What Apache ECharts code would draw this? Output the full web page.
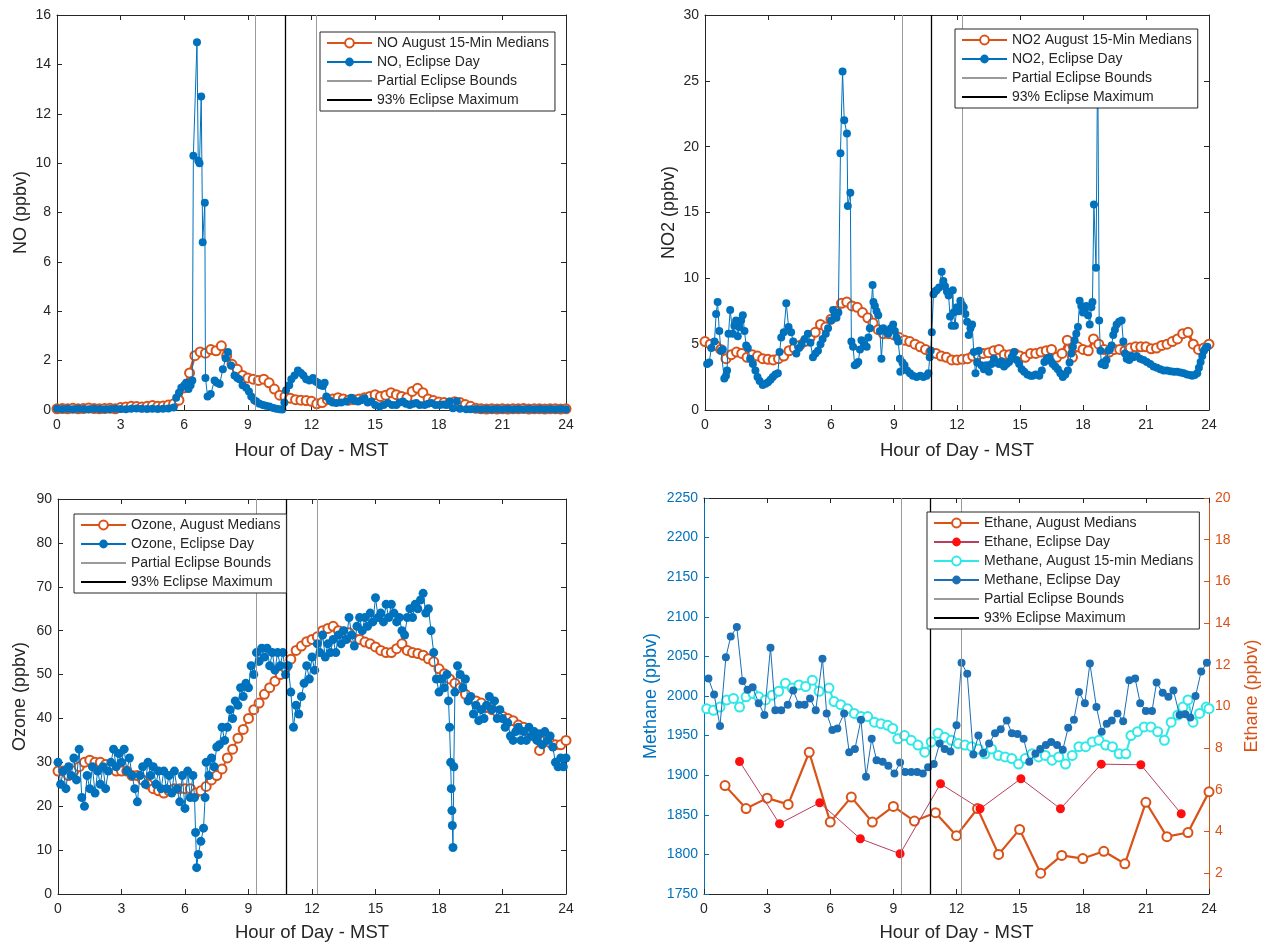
<!DOCTYPE html>
<html><head><meta charset="utf-8">
<script src="https://cdn.jsdelivr.net/npm/echarts@6/dist/echarts.min.js"></script>
<style>html,body{margin:0;padding:0;background:#fff}#c{width:1265px;height:944px}</style>
</head><body><div id="c"></div>
<script>
// ---------------- DATA ----------------
const HOUR_RANGE = [0, 24, 3];
const ECLIPSE_PARTIAL = [9.37, 12.23];
const ECLIPSE_MAX = [10.77];

const QUARTER_HOURS = [
0,0.25,0.5,0.75,1,1.25,1.5,1.75,2,2.25,2.5,2.75,
3,3.25,3.5,3.75,4,4.25,4.5,4.75,5,5.25,5.5,5.75,
6,6.25,6.5,6.75,7,7.25,7.5,7.75,8,8.25,8.5,8.75,
9,9.25,9.5,9.75,10,10.25,10.5,10.75,11,11.25,11.5,11.75,
12,12.25,12.5,12.75,13,13.25,13.5,13.75,14,14.25,14.5,14.75,
15,15.25,15.5,15.75,16,16.25,16.5,16.75,17,17.25,17.5,17.75,
18,18.25,18.5,18.75,19,19.25,19.5,19.75,20,20.25,20.5,20.75,
21,21.25,21.5,21.75,22,22.25,22.5,22.75,23,23.25,23.5,23.75,24];

const NO_MED = [
0.05,0.06,0.05,0.07,0.05,0.06,0.08,0.06,0.05,0.06,0.07,0.05,
0.1,0.12,0.15,0.14,0.12,0.15,0.18,0.15,0.16,0.2,0.25,0.4,
0.9,1.5,2.2,2.35,2.3,2.45,2.4,2.6,2.2,1.85,1.65,1.4,
1.3,1.25,1.2,1.25,1.1,0.85,0.6,0.55,0.48,0.42,0.4,0.38,
0.35,0.25,0.3,0.42,0.45,0.5,0.45,0.4,0.42,0.45,0.5,0.55,
0.62,0.55,0.6,0.7,0.62,0.55,0.5,0.75,0.88,0.7,0.45,0.38,
0.32,0.3,0.28,0.33,0.3,0.22,0.15,0.07,0.05,0.04,0.05,0.04,
0.05,0.04,0.05,0.05,0.06,0.04,0.05,0.05,0.04,0.05,0.05,0.04,0.05];

const NO_DAY = [[0,0.05],[0.25,0.04],[0.5,0.05],[0.75,0.03],[1,0.05],[1.25,0.04],[1.5,0.03],[1.75,0.05],[2,0.04],[2.25,0.03],[2.5,0.04],[2.75,0.05],[3,0.04],[3.25,0.03],[3.5,0.05],[3.75,0.06],[4,0.05],[4.25,0.04],[4.5,0.05],[4.75,0.04],[5,0.05],[5.25,0.06],[5.5,0.1],[5.62,0.5],[5.75,0.7],[5.86,0.9],[6.0,1.0],[6.09,1.1],[6.2,0.85],[6.3,1.0],[6.38,1.2],[6.43,10.3],[6.6,14.9],[6.66,10.1],[6.72,10.0],[6.8,12.7],[6.87,6.8],[6.97,8.4],[7.0,1.3],[7.1,0.55],[7.25,0.65],[7.43,1.2],[7.55,1.1],[7.67,1.05],[7.82,1.65],[7.95,2.1],[8.06,2.35],[8.21,1.8],[8.37,1.4],[8.5,1.3],[8.6,1.25],[8.75,1.0],[8.92,0.9],[9.05,0.75],[9.16,0.55],[9.3,0.4],[9.4,0.34],[9.55,0.25],[9.71,0.2],[9.85,0.17],[10.02,0.14],[10.2,0.08],[10.34,0.05],[10.5,0.03],[10.62,0.02],[10.72,0.3],[10.8,0.8],[10.95,1.0],[11.05,1.25],[11.2,1.4],[11.36,1.6],[11.5,1.5],[11.62,1.4],[11.75,1.25],[11.9,1.2],[12.07,1.3],[12.2,1.15],[12.3,1.1],[12.42,1.0],[12.54,0.97],[12.62,1.1],[12.7,0.55],[12.85,0.4],[13.0,0.3],[13.17,0.28],[13.4,0.3],[13.64,0.34],[13.88,0.5],[14.0,0.4],[14.19,0.34],[14.35,0.4],[14.5,0.48],[14.65,0.3],[14.82,0.34],[15.0,0.2],[15.21,0.14],[15.4,0.2],[15.6,0.28],[15.8,0.2],[16.0,0.2],[16.15,0.3],[16.31,0.34],[16.45,0.25],[16.63,0.2],[16.8,0.25],[16.94,0.28],[17.1,0.2],[17.33,0.2],[17.5,0.25],[17.65,0.28],[17.85,0.2],[18.04,0.2],[18.2,0.22],[18.36,0.2],[18.52,0.34],[18.67,0.07],[18.85,0.35],[19.0,0.05],[19.3,0.03],[19.5,0.03],[19.75,0.04],[20,0.03],[20.25,0.04],[20.5,0.03],[20.75,0.04],[21,0.03],[21.25,0.04],[21.5,0.03],[21.75,0.04],[22,0.03],[22.25,0.04],[22.5,0.03],[22.75,0.04],[23,0.03],[23.25,0.04],[23.5,0.03],[23.75,0.04],[24,0.03]];

const NO2_MED = [
5.2,5.0,4.9,4.6,3.9,4.2,4.4,4.3,4.0,4.2,4.1,3.9,
3.85,3.8,3.9,4.1,4.5,4.7,4.9,5.2,5.5,5.9,6.5,6.3,
6.9,7.5,8.1,8.2,7.9,7.8,7.4,7.0,6.6,6.1,5.8,5.8,
5.7,5.5,5.3,5.2,5.0,4.8,4.6,4.4,4.3,4.1,4.0,3.8,
3.8,3.85,3.9,4.1,4.2,4.3,4.35,4.5,4.6,4.2,4.2,4.3,
4.1,4.0,4.3,4.3,4.4,4.5,4.6,4.0,4.3,5.3,4.0,4.8,
4.6,4.5,5.4,5.0,4.6,4.4,4.6,4.6,4.5,4.7,4.8,4.8,
4.8,4.65,4.7,4.9,5.0,5.2,5.4,5.8,5.9,5.0,4.6,4.7,5.0];

const NO2_DAY = [[0.1,3.5],[0.2,3.6],[0.3,4.7],[0.45,5.2],[0.53,7.3],[0.6,8.2],[0.68,6.0],[0.76,4.5],[0.85,4.6],[0.92,2.4],[1.0,2.6],[1.05,3.0],[1.12,5.8],[1.2,7.6],[1.32,5.8],[1.4,6.4],[1.48,6.8],[1.56,5.6],[1.64,6.3],[1.72,6.8],[1.8,7.2],[1.88,6.0],[1.96,4.9],[2.04,4.7],[2.15,3.9],[2.28,3.5],[2.4,3.0],[2.5,2.5],[2.6,2.2],[2.75,1.9],[2.88,2.0],[3.0,2.1],[3.12,2.3],[3.23,2.5],[3.35,2.7],[3.47,2.8],[3.55,4.4],[3.63,5.5],[3.75,5.9],[3.87,8.1],[3.98,6.3],[4.1,5.9],[4.2,5.2],[4.35,4.3],[4.48,4.7],[4.6,5.0],[4.75,5.4],[4.9,5.8],[5.02,5.1],[5.14,4.0],[5.26,4.3],[5.38,4.5],[5.5,5.0],[5.6,5.4],[5.75,5.8],[5.86,6.2],[6.0,6.8],[6.1,7.6],[6.18,7.2],[6.26,7.0],[6.35,7.4],[6.45,19.5],[6.55,25.7],[6.63,22.0],[6.76,21.0],[6.8,15.5],[6.92,16.5],[6.97,5.2],[7.05,4.8],[7.13,3.4],[7.22,3.5],[7.3,3.65],[7.38,4.6],[7.45,5.3],[7.58,5.0],[7.7,4.8],[7.78,5.5],[7.85,6.2],[7.98,9.5],[8.02,8.2],[8.09,7.9],[8.17,7.5],[8.25,7.2],[8.33,6.0],[8.4,3.9],[8.49,6.2],[8.6,6.0],[8.73,5.8],[8.85,6.2],[8.96,6.5],[9.04,6.0],[9.12,5.5],[9.2,5.2],[9.28,3.9],[9.3,2.9],[9.4,3.6],[9.5,3.4],[9.62,3.0],[9.76,2.8],[9.9,2.6],[10.08,2.5],[10.25,2.6],[10.4,2.5],[10.55,2.6],[10.64,2.8],[10.7,4.0],[10.75,4.5],[10.8,5.9],[10.88,8.8],[10.95,9.0],[11.03,9.1],[11.15,9.3],[11.27,10.5],[11.35,9.8],[11.43,9.4],[11.52,9.0],[11.6,8.7],[11.67,7.1],[11.75,6.4],[11.8,9.1],[11.84,7.4],[11.9,6.4],[12.0,7.8],[12.08,7.5],[12.16,8.3],[12.24,8.0],[12.32,7.8],[12.4,7.3],[12.48,6.7],[12.56,5.7],[12.64,6.2],[12.72,6.5],[12.8,4.4],[12.88,2.8],[12.96,3.6],[13.04,4.5],[13.16,3.4],[13.28,3.1],[13.4,3.4],[13.52,2.9],[13.64,3.5],[13.76,3.9],[13.88,3.6],[14.0,3.5],[14.12,3.7],[14.24,3.3],[14.36,3.5],[14.48,3.65],[14.6,4.0],[14.72,4.4],[14.84,3.8],[14.96,3.5],[15.08,3.1],[15.2,2.9],[15.35,2.7],[15.5,2.6],[15.6,2.6],[15.75,2.7],[15.92,2.6],[16.04,3.0],[16.16,3.65],[16.28,3.9],[16.4,4.0],[16.48,3.7],[16.56,3.5],[16.68,3.3],[16.8,3.1],[16.92,2.8],[17.04,2.5],[17.16,2.7],[17.28,3.0],[17.36,3.6],[17.44,4.3],[17.52,4.8],[17.6,5.3],[17.68,5.8],[17.76,6.3],[17.84,8.3],[17.92,7.9],[18.0,7.4],[18.08,7.6],[18.16,7.9],[18.24,7.2],[18.32,6.5],[18.4,7.8],[18.45,8.2],[18.52,15.6],[18.62,10.8],[18.7,27.5],[18.77,6.8],[18.83,4.5],[18.88,3.5],[18.96,3.6],[19.04,3.4],[19.12,3.8],[19.2,4.5],[19.28,4.6],[19.36,4.9],[19.44,5.7],[19.52,6.1],[19.6,6.5],[19.72,6.7],[19.84,6.8],[19.92,5.2],[20.0,4.3],[20.08,3.9],[20.2,3.8],[20.3,4.1],[20.4,4.0],[20.56,4.1],[20.72,3.9],[20.88,3.8],[21.04,3.65],[21.2,3.5],[21.36,3.3],[21.52,3.2],[21.68,3.1],[21.84,3.0],[22.0,3.0],[22.16,2.95],[22.32,2.9],[22.48,2.9],[22.64,2.85],[22.8,2.8],[22.96,2.7],[23.1,2.65],[23.2,2.6],[23.32,2.65],[23.44,2.8],[23.52,3.2],[23.6,3.65],[23.68,4.1],[23.76,4.5],[23.84,4.7],[23.92,4.8]];

const OZONE_MED = [
28,28,27,28,29,30,30.5,30,30,29.5,29,28,
28,28,27,27,26,25,24,23.5,23,23.5,24,24,
24,24,23,23.5,24.5,26,27,28.5,31,33,35.5,37.5,
40,42,43.5,45.5,47,48.5,50,51.5,53.5,55.5,56.5,57.5,
58,58.6,60,60.5,61,60,59.7,59.5,58.2,58,57.4,57,
56.3,55.5,55,55,55.9,57,55.5,55,54.8,54.4,53.6,52.9,
51.3,50.2,49,48,47,45.5,44.5,44,43.5,42.5,42,41.5,
40.5,40,39.5,38.5,38,37,36,32.7,35,34.5,34,34,35];

const OZONE_DAY = [[0,30],[0.125,25],[0.25,28],[0.375,24],[0.5,29],[0.625,27],[0.75,31],[0.875,26],
[1.0,33],[1.125,22],[1.25,20],[1.375,27],[1.5,24],[1.625,29],[1.75,23],[1.875,28],
[2.0,25],[2.125,29],[2.25,24],[2.375,28],[2.5,30],[2.625,33],[2.75,29],[2.875,32],
[3.0,30],[3.125,33],[3.25,28],[3.375,31],[3.5,27],[3.625,24],[3.75,21],[3.875,27],
[4.0,29],[4.125,25],[4.25,30],[4.375,27],[4.5,29],[4.625,25],[4.75,28],[4.875,24],
[5.0,28],[5.125,24],[5.25,27],[5.375,23],[5.5,28],[5.625,24],[5.75,21],[5.875,27],
[6.0,19.5],[6.125,28],[6.25,22],[6.375,27],[6.45,22],[6.5,14],[6.55,6],[6.625,9],[6.75,12],[6.875,15],
[6.95,22],[7.0,30],[7.125,27],[7.25,31],[7.375,29],[7.5,33.5],[7.625,34],[7.75,38],[7.875,35],
[8.0,38],[8.125,42],[8.25,40],[8.375,44],[8.5,43],[8.625,47],[8.75,45],[8.875,48],
[9.0,47],[9.125,52],[9.25,50],[9.375,55],[9.5,53],[9.625,56],[9.75,54],[9.875,56],
[10.0,52],[10.125,55],[10.25,51],[10.375,55],[10.5,52],[10.625,55],[10.75,50],[10.875,52],
[11.0,46],[11.125,38],[11.25,43],[11.375,41],[11.5,45],[11.625,48],[11.75,52],[11.875,49],
[12.0,54],[12.125,51],[12.25,57],[12.375,55],[12.5,59],[12.625,54],[12.75,57],[12.875,55],
[13.0,58],[13.125,55],[13.25,59],[13.375,57],[13.5,60],[13.625,58],[13.75,63],[13.875,59],
[14.0,56.5],[14.125,61],[14.25,63],[14.375,60],[14.5,63],[14.625,61],[14.75,64],[14.875,62],
[15.0,67.5],[15.125,63],[15.25,64],[15.375,62],[15.5,66],[15.625,63],[15.75,66],[15.875,64],
[16.0,62],[16.125,63],[16.25,60],[16.375,59],[16.5,63],[16.625,65],[16.75,63],[16.875,66],
[17.0,65],[17.125,67],[17.25,68.5],[17.375,64],[17.5,65],[17.625,60],[17.75,55],[17.875,49],
[18.0,46],[18.125,49],[18.25,47],[18.375,50],[18.45,44],[18.5,38],[18.55,30],[18.58,24],[18.61,19],[18.63,15.6],[18.66,10.6],[18.7,29],[18.75,46],[18.875,52],
[19.0,50],[19.125,47],[19.25,49],[19.375,44],[19.5,45],[19.625,41],[19.75,43],[19.875,39.5],
[20.0,42],[20.125,40],[20.25,43],[20.375,45],[20.5,42],[20.625,44],[20.75,40],[20.875,42],
[21.0,40],[21.125,38],[21.25,39],[21.375,36],[21.5,35],[21.625,37],[21.75,38],[21.875,35],
[22.0,37],[22.125,35],[22.25,38],[22.375,36],[22.5,37],[22.625,35],[22.75,36.5],[22.875,34],
[23.0,37],[23.125,35],[23.25,36],[23.375,33.5],[23.5,30],[23.625,29],[23.75,31],[23.875,29],[24.0,31]];

const METHANE_MED = [[0.13,1984],[0.45,1982],[0.76,1986],[1.08,1995],[1.4,1997],[1.69,1986],[2.0,1999],[2.33,2003],[2.6,1999],[2.92,1995],[3.24,2001],[3.55,2006],[3.87,2016],[4.19,2010],[4.51,2014],[4.83,2012],[5.15,2020],[5.47,2006],[5.94,2010],[6.18,1993],[6.5,1989],[6.82,1984],[7.14,1978],[7.46,1974],[7.78,1974],[8.1,1967],[8.41,1965],[8.73,1963],[8.97,1959],[9.21,1946],[9.53,1950],[9.85,1944],[10.17,1938],[10.49,1929],[10.8,1942],[11.12,1953],[11.44,1948],[11.76,1944],[12.08,1940],[12.4,1938],[12.72,1936],[13.04,1933],[13.35,1927],[13.67,1933],[13.99,1925],[14.31,1923],[14.63,1921],[14.95,1914],[15.27,1921],[15.59,1927],[15.9,1923],[16.22,1925],[16.54,1919],[16.86,1923],[17.18,1914],[17.5,1925],[17.82,1936],[18.14,1936],[18.45,1942],[18.77,1944],[19.09,1938],[19.41,1936],[19.73,1927],[20.05,1927],[20.29,1950],[20.6,1955],[20.92,1961],[21.24,1961],[21.56,1955],[21.88,1944],[22.2,1967],[22.52,1976],[22.76,1986],[23.0,1995],[23.24,1967],[23.55,1978],[23.87,1986],[24.0,1984]];

const METHANE_DAY = [[0.21,2022],[0.48,2002],[0.76,1962],[1.04,2049],[1.27,2075],[1.56,2087],[1.83,2019],[2.07,2008],[2.31,2011],[2.6,1991],[2.87,1976],[3.16,2061],[3.39,1982],[3.67,1982],[3.98,1989],[4.24,2007],[4.51,1989],[4.78,1989],[5.04,1997],[5.31,1982],[5.63,2047],[5.83,1978],[6.1,1957],[6.34,1959],[6.66,1978],[6.9,1929],[7.17,1933],[7.46,1970],[7.7,1898],[7.97,1946],[8.2,1919],[8.49,1917],[8.76,1912],[9.05,1902],[9.32,1916],[9.56,1904],[9.85,1904],[10.13,1904],[10.4,1902],[10.65,1910],[10.92,1914],[11.2,1940],[11.44,1933],[11.71,1930],[12.0,1963],[12.24,2042],[12.51,2028],[12.8,1926],[13.04,1950],[13.27,1928],[13.55,1940],[13.83,1953],[14.1,1958],[14.39,1969],[14.63,1953],[14.9,1952],[15.19,1946],[15.46,1917],[15.75,1927],[15.98,1933],[16.25,1938],[16.5,1942],[16.78,1938],[17.05,1932],[17.31,1960],[17.58,1970],[17.82,2005],[18.1,1991],[18.34,2041],[18.65,1986],[18.9,1955],[19.14,1965],[19.38,1969],[19.65,1978],[19.92,1968],[20.21,2020],[20.49,2022],[20.73,1991],[21.0,1981],[21.29,1981],[21.51,2017],[21.8,2004],[22.07,1999],[22.31,2007],[22.6,1976],[22.87,1977],[23.11,1973],[23.36,2000],[23.63,2031],[23.9,2042]];

const ETHANE_MED_T = [1,2,3,4,5,6,7,8,9,10,11,12,13,14,15,16,17,18,19,20,21,22,23,24];
const ETHANE_MED = [6.2,5.1,5.6,5.3,7.8,4.45,5.65,4.45,5.2,4.5,4.9,3.8,5.1,2.9,4.1,2.0,2.85,2.7,3.05,2.45,5.4,3.75,3.95,5.9];
const ETHANE_DAY = [[1.69,7.36],[3.59,4.37],[5.5,5.38],[7.43,3.65],[9.32,2.93],[11.24,6.29],[13.12,5.09],[15.06,6.53],[16.94,5.09],[18.88,7.23],[20.76,7.2],[22.68,4.85]];
const ETHANE_TICKS = [2,4,6,8,10,12,14,16,18,20];

// ---------------- STYLE ----------------
const FONT = "'Liberation Sans', Arial, Helvetica, sans-serif";
const AXC = '#262626';
const BLUE = '#0072BD', ORANGE = '#D95319', CYAN = '#2FE8E8', RED = '#FF1010', ETH_LINE = '#B8405E';
const GRAY = '#9a9a9a';

const grids = [
  {left: 57, top: 15, width: 509, height: 395},
  {left: 705, top: 15, width: 504, height: 395},
  {left: 58, top: 499, width: 508, height: 395},
  {left: 704, top: 498, width: 505, height: 396}
];
const yDefs = [
  {min: 0, max: 16, interval: 2, name: 'NO (ppbv)', gap: 27, color: AXC},
  {min: 0, max: 30, interval: 5, name: 'NO2 (ppbv)', gap: 27, color: AXC},
  {min: 0, max: 90, interval: 10, name: 'Ozone (ppbv)', gap: 29, color: AXC},
  {min: 1750, max: 2250, interval: 50, name: 'Methane (ppbv)', gap: 44, color: BLUE}
];

function plain(v) { return String(v); }
function axisBase(color, showLabel) {
  return {
    type: 'value',
    axisLine: {show: true, onZero: false, lineStyle: {color: color, width: 1}},
    axisTick: {show: true, inside: true, length: 5, lineStyle: {color: color}},
    axisLabel: {show: showLabel, color: color, fontSize: 14, fontFamily: FONT, margin: 6, formatter: plain},
    splitLine: {show: false},
    animation: false
  };
}

const xAxis = [], yAxis = [];
grids.forEach((g, i) => {
  const b = axisBase(AXC, true);
  Object.assign(b, {gridIndex: i, position: 'bottom', min: HOUR_RANGE[0], max: HOUR_RANGE[1], interval: HOUR_RANGE[2],
    name: 'Hour of Day - MST', nameLocation: 'middle', nameGap: i < 2 ? 31 : 29,
    nameTextStyle: {fontSize: 18.5, color: AXC, fontFamily: FONT}});
  b.axisLabel.margin = 8;
  xAxis.push(b);
  const t = axisBase(AXC, false);
  Object.assign(t, {gridIndex: i, position: 'top', min: HOUR_RANGE[0], max: HOUR_RANGE[1], interval: HOUR_RANGE[2]});
  xAxis.push(t);

  const d = yDefs[i];
  const l = axisBase(d.color, true);
  Object.assign(l, {gridIndex: i, position: 'left', min: d.min, max: d.max, interval: d.interval,
    name: d.name, nameLocation: 'middle', nameGap: d.gap, nameRotate: 90,
    nameTextStyle: {fontSize: 18, color: d.color, fontFamily: FONT}});
  yAxis.push(l);
  let r;
  if (i === 3) {
    r = axisBase(ORANGE, true);
    Object.assign(r, {gridIndex: i, position: 'right', min: 1, max: 20,
      name: 'Ethane (ppbv)', nameLocation: 'middle', nameGap: 34, nameRotate: 90,
      nameTextStyle: {fontSize: 18, color: ORANGE, fontFamily: FONT}});
    r.axisLabel.customValues = ETHANE_TICKS;
    r.axisTick.customValues = ETHANE_TICKS;
  } else {
    r = axisBase(AXC, false);
    Object.assign(r, {gridIndex: i, position: 'right', min: d.min, max: d.max, interval: d.interval});
  }
  yAxis.push(r);
});

function zip(ts, vs) { return ts.map((t, k) => [t, vs[k]]); }

function medSeries(name, gi, data, color, lw, size, yIdx) {
  return {type: 'line', name, xAxisIndex: 2 * gi, yAxisIndex: yIdx === undefined ? 2 * gi : yIdx, data,
    symbol: 'emptyCircle', symbolSize: size, showAllSymbol: true,
    lineStyle: {color, width: lw}, itemStyle: {color, borderWidth: 1.6}, z: 2, animation: false};
}
function daySeries(name, gi, data, color, lineColor, size, yIdx) {
  return {type: 'line', name, xAxisIndex: 2 * gi, yAxisIndex: yIdx === undefined ? 2 * gi : yIdx, data,
    symbol: 'circle', symbolSize: size, showAllSymbol: true,
    lineStyle: {color: lineColor, width: 1}, itemStyle: {color}, z: 3, animation: false};
}
function vlineSeries(name, gi, xs, color, w) {
  return {type: 'line', name, xAxisIndex: 2 * gi, yAxisIndex: 2 * gi, data: [], symbol: 'none',
    lineStyle: {color, width: w}, itemStyle: {color}, z: 4, animation: false,
    markLine: {silent: true, symbol: ['none', 'none'], label: {show: false}, animation: false,
      lineStyle: {color, width: w, type: 'solid'}, emphasis: {disabled: true},
      data: xs.map(x => ({xAxis: x}))}};
}

const series = [];
series.push(medSeries('NO August 15-Min Medians', 0, zip(QUARTER_HOURS, NO_MED), ORANGE, 3, 9));
series.push(daySeries('NO, Eclipse Day', 0, NO_DAY, BLUE, BLUE, 8));
series.push(medSeries('NO2 August 15-Min Medians', 1, zip(QUARTER_HOURS, NO2_MED), ORANGE, 3, 9));
series.push(daySeries('NO2, Eclipse Day', 1, NO2_DAY, BLUE, BLUE, 8));
series.push(medSeries('Ozone, August Medians', 2, zip(QUARTER_HOURS, OZONE_MED), ORANGE, 2, 9));
series.push(daySeries('Ozone, Eclipse Day', 2, OZONE_DAY, BLUE, BLUE, 9));
series.push(medSeries('Ethane, August Medians', 3, zip(ETHANE_MED_T, ETHANE_MED), ORANGE, 2.2, 9, 7));
series.push(daySeries('Ethane, Eclipse Day', 3, ETHANE_DAY, RED, ETH_LINE, 9, 7));
series.push(medSeries('Methane, August 15-min Medians', 3, METHANE_MED, CYAN, 2, 9));
series.push(daySeries('Methane, Eclipse Day', 3, METHANE_DAY, '#1b6fb5', '#1b6fb5', 8));
for (let gi = 0; gi < 4; gi++) {
  series.push(vlineSeries('Partial Eclipse Bounds', gi, ECLIPSE_PARTIAL, GRAY, 1));
  series.push(vlineSeries('93% Eclipse Maximum', gi, ECLIPSE_MAX, '#000', 1.3));
}

const NO_SYMBOL = {color: 'rgba(0,0,0,0)', borderColor: 'rgba(0,0,0,0)', borderWidth: 0, opacity: 0};
function legendAt(left, top, names) {
  const data = names.map(n => (n === 'Partial Eclipse Bounds' || n === '93% Eclipse Maximum')
    ? {name: n, itemStyle: NO_SYMBOL} : {name: n});
  return {data, left, top, orient: 'vertical', itemWidth: 45, itemHeight: 11, itemGap: 5,
    padding: [4, 6, 4, 6], backgroundColor: '#fff', borderColor: AXC, borderWidth: 1, borderRadius: 0,
    selectedMode: false, textStyle: {fontSize: 14, color: AXC, fontFamily: FONT, lineHeight: 14}, z: 10};
}
const legend = [
  legendAt(320, 32, ['NO August 15-Min Medians', 'NO, Eclipse Day', 'Partial Eclipse Bounds', '93% Eclipse Maximum']),
  legendAt(955, 29, ['NO2 August 15-Min Medians', 'NO2, Eclipse Day', 'Partial Eclipse Bounds', '93% Eclipse Maximum']),
  legendAt(74, 514, ['Ozone, August Medians', 'Ozone, Eclipse Day', 'Partial Eclipse Bounds', '93% Eclipse Maximum']),
  legendAt(927, 512, ['Ethane, August Medians', 'Ethane, Eclipse Day', 'Methane, August 15-min Medians', 'Methane, Eclipse Day', 'Partial Eclipse Bounds', '93% Eclipse Maximum'])
];

const chart = echarts.init(document.getElementById('c'), null, {renderer: 'canvas'});
chart.setOption({
  animation: false,
  backgroundColor: '#fff',
  textStyle: {fontFamily: FONT},
  grid: grids.map(g => Object.assign({containLabel: false}, g)),
  xAxis, yAxis, series, legend
});
</script></body></html>
